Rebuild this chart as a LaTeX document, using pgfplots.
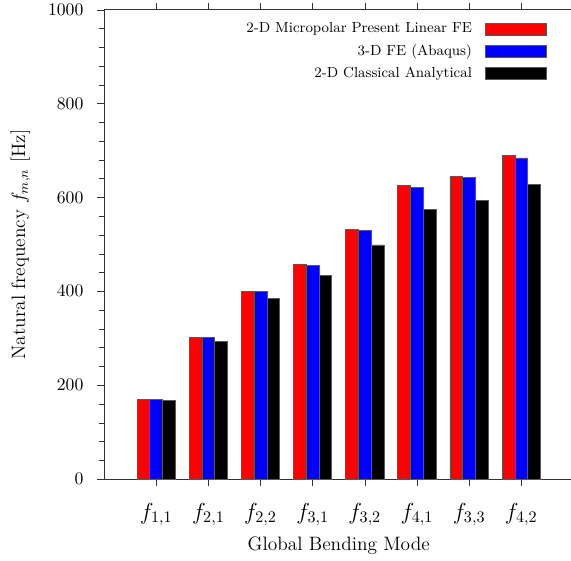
\documentclass[border=0pt]{standalone}
\usepackage{pgfplots}
\pgfplotsset{compat=1.18}
\begin{document}
\begin{tikzpicture}
\pgfplotsset{
  barleg/.style={legend image code/.code={\draw[##1] (0pt,-3.7pt) rectangle (38pt,3.7pt);}},
}
\begin{axis}[
  scale only axis,
  width=291pt, height=291pt,
  xmin=0, xmax=9,
  ymin=0, ymax=1000,
  ybar=0pt,
  bar width=0.245,
  xtick={1,2,3,4,5,6,7,8},
  xticklabels={$f_{1,1}$,$f_{2,1}$,$f_{2,2}$,$f_{3,1}$,$f_{3,2}$,$f_{4,1}$,$f_{3,3}$,$f_{4,2}$},
  xticklabel style={font=\fontsize{13.8}{16}\selectfont, yshift=-7pt},
  ytick={0,200,400,600,800,1000},
  yticklabel style={font=\fontsize{11}{13}\selectfont, xshift=-5pt, /pgf/number format/1000 sep={}},
  minor y tick num=4,
  tick align=outside,
  ytick pos=left,
  xtick pos=both,
  axis line style={black!80},
  tick style={black!80},
  xlabel={\large Global Bending Mode},
  ylabel={\large Natural frequency $f_{m,n}$ [Hz]},
  ylabel style={at={(axis description cs:-0.178,0.5)}, anchor=center},
  legend style={draw=none, fill=none, font=\small,
    at={(axis description cs:0.944,0.98)}, anchor=north east,
    legend cell align=right, row sep=1.7pt, column sep=6pt, inner sep=0pt},
  legend plot pos=right,
]
\addplot[barleg, fill=red, draw=black!65, line width=0.4pt] coordinates {
(1,170) (2,302) (3,400) (4,457) (5,532) (6,626) (7,645) (8,689)};
\addlegendentry{2-D Micropolar Present Linear FE}
\addplot[barleg, fill=blue, draw=black!65, line width=0.4pt] coordinates {
(1,170) (2,302) (3,399) (4,455) (5,530) (6,622) (7,642) (8,684)};
\addlegendentry{3-D FE (Abaqus)}
\addplot[barleg, fill=black, draw=black!65, line width=0.4pt] coordinates {
(1,167) (2,294) (3,384) (4,434) (5,499) (6,575) (7,593) (8,627)};
\addlegendentry{2-D Classical Analytical}
\end{axis}
\pgfresetboundingbox
\useasboundingbox (-64.5pt,-50.2pt) rectangle (289.5pt,297pt);
\end{tikzpicture}
\end{document}
